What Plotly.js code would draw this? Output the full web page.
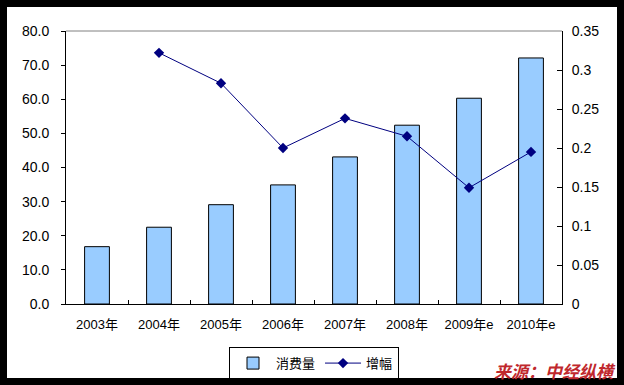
<!DOCTYPE html>
<html><head><meta charset="utf-8">
<script src="https://cdn.plot.ly/plotly-3.0.1.min.js"></script>
<style>
html,body{margin:0;padding:0;background:#fff;}
#frame{position:absolute;left:0;top:0;width:624px;height:385px;background:#000;}
#inner{position:absolute;left:7px;top:7px;width:610px;height:371px;background:#fff;}
#chart{position:absolute;left:0;top:0;width:624px;height:385px;}
</style></head>
<body>
<div id="frame"><div id="inner"></div></div>
<div id="chart"></div>
<script>
const categories = ["2003年","2004年","2005年","2006年","2007年","2008年","2009年e","2010年e"];
const consumption = [16.8, 22.5, 29.1, 34.9, 43.1, 52.4, 60.3, 72.1];
const growth = [null, 0.322, 0.283, 0.200, 0.238, 0.215, 0.149, 0.195];
const leftTicks = [0,10,20,30,40,50,60,70,80];
const rightTicks = [0,0.05,0.1,0.15,0.2,0.25,0.3,0.35];

const fontFam = "Liberation Sans, Arial, Noto Sans CJK SC, sans-serif";
const data = [
  {type:'bar', x:categories, y:consumption, name:'消费量',
   marker:{color:'#99ccff', line:{color:'#000', width:1}}, yaxis:'y'},
  {type:'scatter', mode:'lines+markers', x:categories, y:growth, name:'增幅',
   line:{color:'#000080', width:1}, marker:{symbol:'diamond', size:8, color:'#000080'},
   yaxis:'y2', connectgaps:false}
];
const layout = {
  width:624, height:385,
  margin:{l:66, r:62, t:31, b:81, autoexpand:false},
  paper_bgcolor:'rgba(0,0,0,0)', plot_bgcolor:'#fff',
  font:{family:fontFam, size:12, color:'#000'},
  bargap:0.6,
  showlegend:true,
  legend:{orientation:'h', x:0.5, xanchor:'center', y:-0.158, yanchor:'top',
    bordercolor:'#000', borderwidth:1, bgcolor:'#fff',
    font:{family:fontFam, size:13}, itemwidth:36, tracegroupgap:0},
  xaxis:{type:'category', showline:true, linecolor:'#000', linewidth:1,
    ticks:'inside', ticklen:4, tickcolor:'#000', tickson:'boundaries',
    tickfont:{family:fontFam, size:13}, ticklabelstandoff:8, tickangle:0, automargin:false,
    showgrid:false, zeroline:false, fixedrange:true},
  yaxis:{range:[0,80], tickvals:leftTicks, tickformat:'.1f', showline:true,
    linecolor:'#000', linewidth:1, ticks:'outside', ticklen:4, tickcolor:'#000', automargin:false,
    showgrid:false, zeroline:false, tickfont:{family:fontFam, size:14}, ticklabelstandoff:9},
  yaxis2:{range:[0,0.35], tickvals:rightTicks, ticktext:rightTicks.map(String),
    overlaying:'y', side:'right', showline:true, linecolor:'#000', linewidth:1, automargin:false,
    ticks:'inside', ticklen:5, tickcolor:'#000', showgrid:false, zeroline:false,
    tickfont:{family:fontFam, size:14}, ticklabelstandoff:6},
  shapes:[{type:'line', xref:'paper', yref:'paper', x0:0, x1:1, y0:1, y1:1,
    line:{color:'#808080', width:1}}],
  annotations:[{xref:'paper', yref:'paper', x:1.112, y:-0.19, xanchor:'right', yanchor:'top',
    text:'<b><i>来源：中经纵横</i></b>', showarrow:false,
    font:{family:'Noto Sans CJK SC, sans-serif', size:17, color:'#c0282d'}}]
};
Plotly.newPlot('chart', data, layout, {displayModeBar:false, staticPlot:true});
</script>
</body></html>
